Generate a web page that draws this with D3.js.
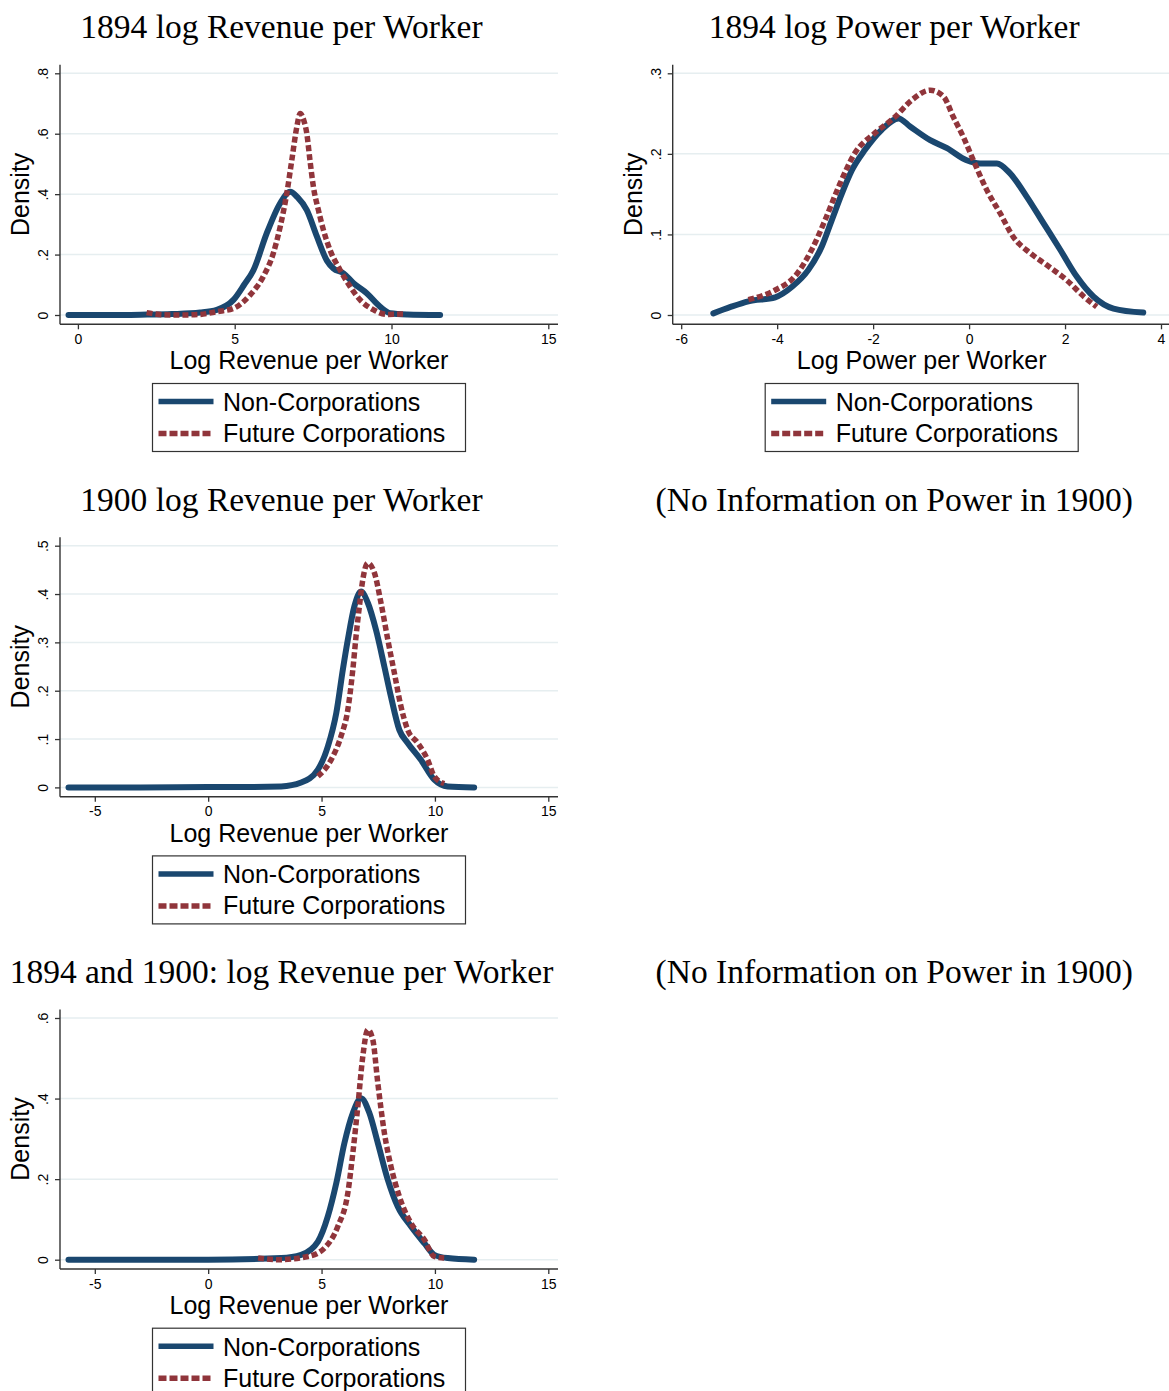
<!DOCTYPE html>
<html lang="en">
<head>
<meta charset="UTF-8">
<title>Revenue and Power per Worker densities</title>
<script src="https://d3js.org/d3.v7.min.js"></script>
<style>
  body { margin: 0; background: #fff; }
  .title { font-family: "Liberation Serif", serif; font-size: 33.5px; fill: #000; }
  .sans  { font-family: "Liberation Sans", Arial, sans-serif; fill: #000; }
  .grid  { stroke: #e6eef0; stroke-width: 1.5; }
  .axisline { stroke: #333; stroke-width: 1.4; }
</style>
</head>
<body>
<div id="chart"></div>
<script>
// ---- data ----
var seriesNames = ["Non-Corporations", "Future Corporations"];

// 1894 log revenue per worker
var rev94NonX = [-0.3, 1, 2, 3, 3.9, 4.43, 4.96, 5.3, 5.6, 6.02, 6.45, 6.77, 7.0, 7.3, 7.62, 7.94, 8.15, 8.47, 8.79, 9.21, 9.64, 9.96, 10.5, 11.55];
var rev94NonY = [0, 0, 0.001, 0.003, 0.008, 0.017, 0.05, 0.1, 0.149, 0.27, 0.37, 0.408, 0.39, 0.347, 0.26, 0.18, 0.154, 0.138, 0.105, 0.072, 0.027, 0.006, 0.002, 0];
var rev94FutX = [2.19, 2.7, 3.3, 3.9, 4.43, 4.96, 5.49, 5.91, 6.23, 6.45, 6.66, 6.82, 6.98, 7.09, 7.2, 7.3, 7.4, 7.51, 7.67, 7.83, 8.04, 8.36, 8.68, 9.0, 9.43, 9.85, 10.28, 10.4];
var rev94FutY = [0.008, 0.001, 0, 0.002, 0.011, 0.022, 0.066, 0.127, 0.204, 0.292, 0.402, 0.512, 0.622, 0.667, 0.645, 0.6, 0.512, 0.424, 0.347, 0.281, 0.215, 0.149, 0.094, 0.05, 0.017, 0.002, 0.003, 0.003];

// 1894 log power per worker
var pow94NonX = [-5.33, -4.97, -4.6, -4.04, -3.69, -3.35, -3.07, -2.86, -2.65, -2.44, -2.17, -1.82, -1.47, -1.23, -0.81, -0.46, -0.05, 0.23, 0.58, 0.85, 1.2, 1.55, 1.9, 2.24, 2.59, 3.01, 3.63];
var pow94NonY = [0.002, 0.01, 0.017, 0.022, 0.035, 0.056, 0.085, 0.118, 0.151, 0.18, 0.205, 0.23, 0.244, 0.234, 0.217, 0.207, 0.192, 0.188, 0.188, 0.176, 0.147, 0.114, 0.081, 0.048, 0.023, 0.008, 0.003];
var pow94FutX = [-4.6, -4.04, -3.63, -3.28, -3.0, -2.72, -2.38, -1.96, -1.54, -1.19, -0.81, -0.53, -0.33, -0.12, 0.09, 0.37, 0.65, 0.92, 1.27, 1.62, 2.04, 2.39, 2.66];
var pow94FutY = [0.019, 0.031, 0.048, 0.081, 0.118, 0.159, 0.201, 0.226, 0.246, 0.267, 0.279, 0.271, 0.246, 0.221, 0.192, 0.155, 0.126, 0.097, 0.077, 0.062, 0.043, 0.023, 0.01];

// 1900 log revenue per worker
var rev00NonX = [-6.16, -3, 0, 2, 3.22, 4.1, 4.84, 5.28, 5.65, 5.94, 6.16, 6.45, 6.74, 7.04, 7.4, 7.77, 8.06, 8.43, 8.8, 9.38, 9.97, 10.56, 11.73];
var rev00NonY = [0, 0, 0.001, 0.001, 0.002, 0.01, 0.037, 0.085, 0.154, 0.244, 0.306, 0.375, 0.405, 0.382, 0.326, 0.25, 0.188, 0.119, 0.092, 0.057, 0.016, 0.002, 0];
var rev00FutX = [4.84, 5.42, 5.86, 6.16, 6.38, 6.52, 6.67, 6.82, 7.04, 7.33, 7.62, 7.92, 8.21, 8.5, 8.8, 9.24, 9.68, 9.97, 10.41];
var rev00FutY = [0.023, 0.057, 0.106, 0.161, 0.244, 0.312, 0.375, 0.43, 0.464, 0.444, 0.382, 0.306, 0.237, 0.168, 0.119, 0.092, 0.057, 0.023, 0.008];

// 1894 and 1900 pooled
var revAllNonX = [-6.16, 0, 3.22, 4.1, 4.84, 5.28, 5.65, 6.01, 6.38, 6.74, 7.11, 7.48, 7.92, 8.36, 8.94, 9.53, 9.97, 10.56, 11.73];
var revAllNonY = [0, 0, 0.004, 0.012, 0.045, 0.108, 0.19, 0.29, 0.364, 0.401, 0.364, 0.29, 0.199, 0.132, 0.083, 0.041, 0.012, 0.004, 0];
var revAllFutX = [2.2, 3.08, 4.4, 5.13, 5.72, 6.16, 6.38, 6.6, 6.82, 7.04, 7.26, 7.48, 7.77, 8.06, 8.43, 8.94, 9.53, 9.97, 10.41];
var revAllFutY = [0.004, 0, 0.008, 0.029, 0.083, 0.166, 0.265, 0.381, 0.505, 0.571, 0.546, 0.439, 0.315, 0.232, 0.157, 0.091, 0.05, 0.008, 0.004];

// ticks
var revTicks94 = [0, 5, 10, 15];
var revTicks00 = [-5, 0, 5, 10, 15];
var powTicks = [-6, -4, -2, 0, 2, 4];
var densTicks94 = [0, 0.2, 0.4, 0.6, 0.8];
var densLabels94 = ["0", ".2", ".4", ".6", ".8"];
var densTicksPow = [0, 0.1, 0.2, 0.3];
var densLabelsPow = ["0", ".1", ".2", ".3"];
var densTicks00 = [0, 0.1, 0.2, 0.3, 0.4, 0.5];
var densLabels00 = ["0", ".1", ".2", ".3", ".4", ".5"];
var densTicksAll = [0, 0.2, 0.4, 0.6];
var densLabelsAll = ["0", ".2", ".4", ".6"];

var titles = ["1894 log Revenue per Worker", "1894 log Power per Worker",
              "1900 log Revenue per Worker", "1894 and 1900: log Revenue per Worker"];
var noInfoText = "(No Information on Power in 1900)";

var blue = "#1a476f", red = "#90353b";

// ---- page ----
var W = 1169, H = 1391;
var svg = d3.select("#chart").append("svg")
    .attr("width", W).attr("height", H);
svg.append("rect").attr("width", W).attr("height", H).attr("fill", "#fff");

function zip(xs, ys) { return xs.map(function(x, i) { return [x, ys[i]]; }); }

// panel geometry: L = y axis x, B = x axis y
function drawPanel(p) {
  var L = p.L, B = p.B;
  var g = svg.append("g");

  var allX = p.series.reduce(function(a, s) { return a.concat(s.x); }, []);
  var xmin = Math.min(d3.min(allX), p.xTicks[0]);
  var xmax = Math.max(d3.max(allX), p.xTicks[p.xTicks.length - 1]);
  var x = d3.scaleLinear().domain([xmin, xmax]).range([L + 8.5, L + 488.3]);
  var y = d3.scaleLinear().domain([0, p.yTicks[p.yTicks.length - 1]]).range([B - 9.3, B - 251]);

  // title
  g.append("text").attr("class", "title")
    .attr("x", L + 221.5).attr("y", B - 286)
    .attr("text-anchor", "middle").text(p.title);

  // grid
  g.selectAll(".grid").data(p.yTicks).enter().append("line")
    .attr("class", "grid")
    .attr("x1", L).attr("x2", L + 498)
    .attr("y1", function(d) { return y(d); })
    .attr("y2", function(d) { return y(d); });

  // y axis
  var yAxis = d3.axisLeft(y).tickValues(p.yTicks).tickSize(5).tickSizeOuter(0)
    .tickFormat(function(d, i) { return p.yLabels[i]; });
  var ya = g.append("g").attr("transform", "translate(" + L + ",0)").call(yAxis);
  ya.select(".domain").remove();
  ya.selectAll(".tick line").attr("stroke", "#333").attr("stroke-width", 1.3);
  ya.selectAll(".tick text")
    .attr("class", "sans").attr("font-size", 14)
    .attr("x", null).attr("dy", null)
    .attr("transform", "translate(-12,0) rotate(-90)")
    .attr("text-anchor", "middle").attr("y", 0);
  g.append("line").attr("class", "axisline")
    .attr("x1", L).attr("x2", L).attr("y1", B).attr("y2", B - 259.5);

  // x axis (plain hyphen for negatives, as in the original)
  var xAxis = d3.axisBottom(x).tickValues(p.xTicks).tickSize(5).tickSizeOuter(0)
    .tickFormat(function(d) { return String(d); });
  var xa = g.append("g").attr("transform", "translate(0," + B + ")").call(xAxis);
  xa.select(".domain").remove();
  xa.selectAll(".tick line").attr("stroke", "#333").attr("stroke-width", 1.3);
  xa.selectAll(".tick text").attr("class", "sans").attr("font-size", 14)
    .attr("dy", null).attr("y", 19.5);
  g.append("line").attr("class", "axisline")
    .attr("x1", L).attr("x2", L + 498).attr("y1", B).attr("y2", B);

  // axis titles
  g.append("text").attr("class", "sans").attr("font-size", 25)
    .attr("text-anchor", "middle")
    .attr("transform", "translate(" + (L - 31) + "," + (B - 130) + ") rotate(-90)")
    .text("Density");
  g.append("text").attr("class", "sans").attr("font-size", 25)
    .attr("text-anchor", "middle")
    .attr("x", L + 249).attr("y", B + 45)
    .text(p.xTitle);

  // density curves
  var line = d3.line()
    .x(function(d) { return x(d[0]); })
    .y(function(d) { return y(d[1]); })
    .curve(d3.curveMonotoneX);
  p.series.forEach(function(s, i) {
    g.append("path")
      .datum(zip(s.x, s.y))
      .attr("d", line)
      .attr("fill", "none")
      .attr("stroke", i === 0 ? blue : red)
      .attr("stroke-width", i === 0 ? 6 : 5.5)
      .attr("stroke-linecap", i === 0 ? "round" : "butt")
      .attr("stroke-linejoin", "round")
      .attr("stroke-dasharray", i === 0 ? null : "6,3");
  });

  // legend
  var lx = L + 92.5, ly = B + 59.2;
  var lg = g.append("g").attr("transform", "translate(" + lx + "," + ly + ")");
  lg.append("rect").attr("width", 313).attr("height", 68)
    .attr("fill", "#fff").attr("stroke", "#333").attr("stroke-width", 1.2);
  seriesNames.forEach(function(name, i) {
    lg.append("line")
      .attr("x1", 6).attr("x2", 61)
      .attr("y1", 18 + i * 32).attr("y2", 18 + i * 32)
      .attr("stroke", i === 0 ? blue : red)
      .attr("stroke-width", 5.5)
      .attr("stroke-dasharray", i === 0 ? null : "8,3");
    lg.append("text").attr("class", "sans").attr("font-size", 25)
      .attr("x", 70.5).attr("y", 27.5 + i * 31)
      .text(name);
  });
}

var panels = [
  { L: 60, B: 324.3, title: titles[0], xTitle: "Log Revenue per Worker",
    xTicks: revTicks94, yTicks: densTicks94, yLabels: densLabels94,
    series: [{ x: rev94NonX, y: rev94NonY }, { x: rev94FutX, y: rev94FutY }] },
  { L: 672.7, B: 324.3, title: titles[1], xTitle: "Log Power per Worker",
    xTicks: powTicks, yTicks: densTicksPow, yLabels: densLabelsPow,
    series: [{ x: pow94NonX, y: pow94NonY }, { x: pow94FutX, y: pow94FutY }] },
  { L: 60, B: 796.7, title: titles[2], xTitle: "Log Revenue per Worker",
    xTicks: revTicks00, yTicks: densTicks00, yLabels: densLabels00,
    series: [{ x: rev00NonX, y: rev00NonY }, { x: rev00FutX, y: rev00FutY }] },
  { L: 60, B: 1269, title: titles[3], xTitle: "Log Revenue per Worker",
    xTicks: revTicks00, yTicks: densTicksAll, yLabels: densLabelsAll,
    series: [{ x: revAllNonX, y: revAllNonY }, { x: revAllFutX, y: revAllFutY }] }
];
panels.forEach(drawPanel);

// empty right-hand cells only carry a title
[796.7, 1269].forEach(function(B) {
  svg.append("text").attr("class", "title")
    .attr("x", 672.7 + 221.5).attr("y", B - 286)
    .attr("text-anchor", "middle").text(noInfoText);
});
</script>
</body>
</html>
